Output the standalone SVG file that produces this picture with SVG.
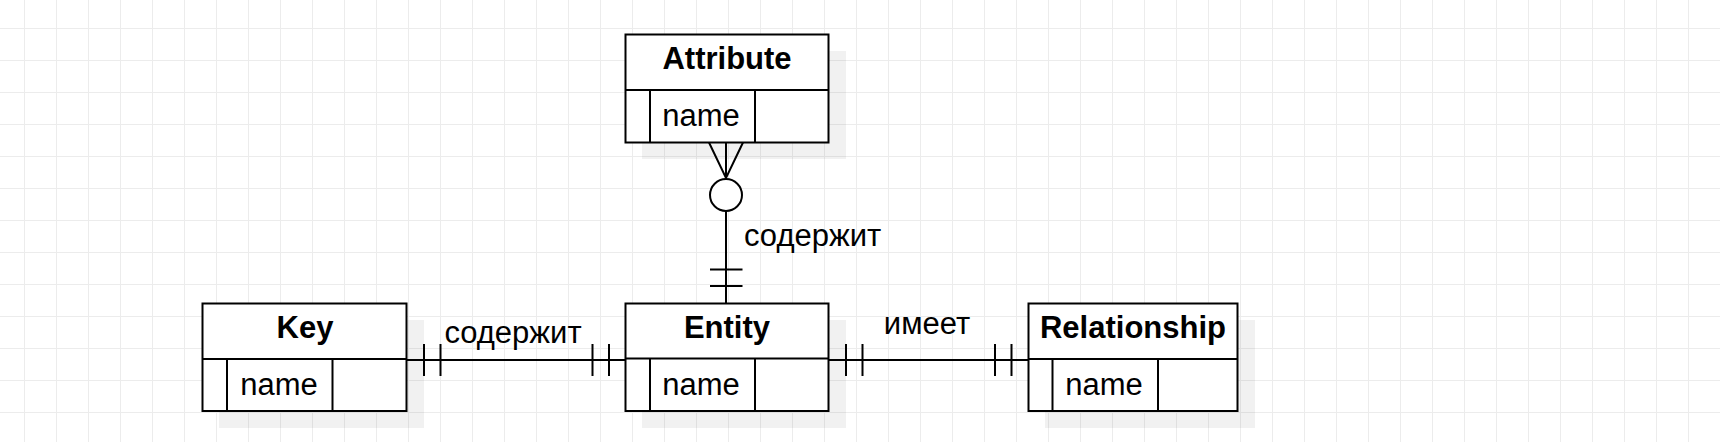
<svg xmlns="http://www.w3.org/2000/svg" width="1720" height="442" viewBox="0 0 1720 442">
  <defs>
    <pattern id="grid" patternUnits="userSpaceOnUse" x="24" y="28" width="32" height="32">
      <path d="M0.5 0V32M0 0.5H32" fill="none" stroke="#ececec" stroke-width="1"/>
    </pattern>
  </defs>
  <style>
    .shadow { fill: #000000; fill-opacity: 0.055; stroke: none; }
    .box { fill: #ffffff; stroke: #000000; stroke-width: 2; }
    .ln { fill: none; stroke: #000000; stroke-width: 2; }
    text { font-family: "Liberation Sans", Arial, sans-serif; font-size: 31px; fill: #000000; }
    .title { font-weight: bold; text-anchor: middle; }
    .field { text-anchor: middle; }
    .lbl { text-anchor: middle; }
  </style>
  <rect width="1720" height="442" fill="#ffffff"/>
  <rect width="1720" height="442" fill="url(#grid)"/>

  <g id="attribute">
    <rect class="shadow" x="642" y="51" width="204" height="108"/>
    <rect class="box" x="625.5" y="34.5" width="203" height="108"/>
    <path class="ln" d="M625.5 90H828.5M650 90V142.5M755 90V142.5"/>
    <text class="title" x="727" y="69">Attribute</text>
    <text class="field" x="701" y="125.5">name</text>
  </g>

  <g id="key">
    <rect class="shadow" x="219" y="320" width="205" height="108"/>
    <rect class="box" x="202.5" y="303.5" width="204" height="107.5"/>
    <path class="ln" d="M202.5 359H406.5M227 359V411M332.5 359V411"/>
    <text class="title" x="305" y="338">Key</text>
    <text class="field" x="279" y="394.5">name</text>
  </g>

  <g id="entity">
    <rect class="shadow" x="642" y="320" width="204" height="108"/>
    <rect class="box" x="625.5" y="303.5" width="203" height="107.5"/>
    <path class="ln" d="M625.5 358.5H828.5M650 358.5V411M755 358.5V411"/>
    <text class="title" x="727" y="338">Entity</text>
    <text class="field" x="701" y="394.5">name</text>
  </g>

  <g id="relationship">
    <rect class="shadow" x="1045" y="320" width="210" height="108"/>
    <rect class="box" x="1028.5" y="303.5" width="209" height="107.5"/>
    <path class="ln" d="M1028.5 359H1237.5M1052.5 359V411M1158 359V411"/>
    <text class="title" x="1133" y="338">Relationship</text>
    <text class="field" x="1104" y="394.5">name</text>
  </g>

  <g id="connectors">
    <!-- Key - Entity -->
    <path class="ln" d="M406.5 360H625.5M424 344V376M440.5 344V376M592.5 344V376M609 344V376"/>
    <text class="lbl" x="513" y="343">содержит</text>
    <!-- Entity - Relationship -->
    <path class="ln" d="M828.5 360H1028.5M846 344V376M862.5 344V376M995 344V376M1011.5 344V376"/>
    <text class="lbl" x="927" y="333.5">имеет</text>
    <!-- Attribute - Entity -->
    <path class="ln" d="M726 211V303.5M710 269.5H742.5M710 286H742.5M726 142.5V178M709 142.5L726 178L743 142.5"/>
    <circle class="box" cx="726" cy="195" r="16"/>
    <text x="744" y="246">содержит</text>
  </g>
</svg>
